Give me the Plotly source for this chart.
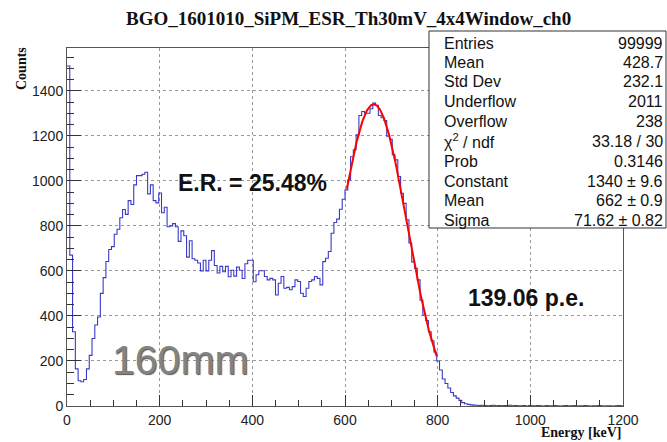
import numpy as np
import plotly.graph_objects as go

# ---- data ----
bin_width = 6.0
x_min, x_max = 0.0, 1200.0
hist_counts = [
    1510, 670, 330, 165, 112, 108, 118, 165, 225, 300,
    360, 395, 500, 570, 642, 695, 708, 763, 785, 836,
    873, 851, 912, 895, 982, 1023, 1023, 1029, 1038, 942,
    982, 912, 902, 946, 858, 883, 796, 800, 810, 796,
    731, 778, 756, 661, 734, 654, 647, 635, 600, 647,
    600, 647, 690, 624, 591, 620, 596, 620, 574, 603,
    577, 617, 603, 566, 632, 647, 647, 552, 583, 601,
    601, 575, 560, 567, 560, 493, 545, 575, 523, 527,
    516, 530, 560, 553, 501, 486, 523, 553, 560, 575,
    567, 538, 641, 656, 686, 767, 815, 830, 874, 918,
    960, 1004, 1107, 1138, 1204, 1290, 1308, 1300, 1300, 1320,
    1345, 1335, 1290, 1280, 1268, 1198, 1184, 1116, 1093, 1019,
    945, 900, 827, 724, 640, 612, 560, 470, 404, 380,
    330, 290, 240, 200, 160, 120, 100, 80, 60, 45,
    35, 25, 15, 10, 7, 5, 4, 3, 2, 3,
    2, 1, 2, 3, 1, 2, 1, 2, 1, 3,
    1, 2, 1, 1, 2, 0, 2, 1, 1, 2,
    1, 0, 2, 1, 1, 2, 1, 0, 1, 2,
    1, 1, 2, 0, 1, 1, 2, 1, 0, 1,
    1, 2, 1, 0, 1, 1, 0, 1, 2, 1,
]

fit_constant = 1340.0
fit_mean = 662.0
fit_sigma = 71.62
fit_lo, fit_hi = 604.0, 798.0

stat_labels = ["Entries", "Mean", "Std Dev", "Underflow", "Overflow",
               "χ<sup>2</sup> / ndf", "Prob", "Constant", "Mean", "Sigma"]
stat_values = ["99999", "428.7", "232.1", "2011", "238",
               "33.18 / 30", "0.3146", "1340 ± 9.6", "662 ± 0.9", "71.62 ± 0.82"]

title_text = "BGO_1601010_SiPM_ESR_Th30mV_4x4Window_ch0"

# ---- figure ----
W, H = 667, 442
L, R, T, B = 67, 44, 48, 36
pw, ph = W - L - R, H - T - B

def px(xp):
    return (xp - L) / pw

def py(yp):
    return (H - B - yp) / ph

n = len(hist_counts)
edges = [x_min + i * bin_width for i in range(n + 1)]
step_x = edges
step_y = list(hist_counts) + [hist_counts[-1]]

fx = np.linspace(fit_lo, fit_hi, 200)
fy = fit_constant * np.exp(-0.5 * ((fx - fit_mean) / fit_sigma) ** 2)

fig = go.Figure()
fig.add_trace(go.Scatter(x=step_x, y=step_y, mode="lines", line_shape="hv",
                         line=dict(color="#3a3ac8", width=1.1), hoverinfo="skip"))
fig.add_trace(go.Scatter(x=fx, y=fy, mode="lines",
                         line=dict(color="#ff0000", width=2), hoverinfo="skip"))

axis_font = dict(family="Liberation Sans, Arial", size=14, color="#222")
fig.update_xaxes(range=[x_min, x_max], tick0=0, dtick=200, ticks="inside", ticklen=11,
                 tickcolor="#333", showline=True, linecolor="#555", linewidth=1, mirror=True,
                 showgrid=True, gridcolor="#999", griddash="dot", gridwidth=1,
                 zeroline=False, tickfont=axis_font, ticklabelstandoff=1,
                 minor=dict(dtick=50, ticks="inside", ticklen=6, tickcolor="#333", showgrid=False))
fig.update_yaxes(range=[0, 1590], tick0=0, dtick=200, ticks="inside", ticklen=14,
                 tickcolor="#333", showline=True, linecolor="#555", linewidth=1, mirror=True,
                 showgrid=True, gridcolor="#999", griddash="dot", gridwidth=1,
                 zeroline=False, tickfont=axis_font,
                 minor=dict(dtick=50, ticks="inside", ticklen=7, tickcolor="#333", showgrid=False))

annotations = []
# stats box rows
row_y = [43, 62.5, 82, 101.5, 121, 141, 161, 181, 200.5, 220]
for lab, val, yy in zip(stat_labels, stat_values, row_y):
    annotations.append(dict(x=px(442), y=py(yy), xref="paper", yref="paper", text=lab,
                            showarrow=False, xanchor="left", yanchor="middle",
                            font=dict(family="Liberation Sans, Arial", size=16, color="#111")))
    annotations.append(dict(x=px(665), y=py(yy), xref="paper", yref="paper", text=val,
                            showarrow=False, xanchor="right", yanchor="middle",
                            font=dict(family="Liberation Sans, Arial", size=16, color="#111")))

annotations += [
    dict(x=px(348), y=py(19), xref="paper", yref="paper", text="<b>" + title_text + "</b>",
         showarrow=False, xanchor="center", yanchor="middle",
         font=dict(family="Liberation Serif, Times New Roman", size=19, color="#111")),
    dict(x=px(22), y=py(69), xref="paper", yref="paper", text="<b>Counts</b>", textangle=-90,
         showarrow=False, xanchor="center", yanchor="middle",
         font=dict(family="Liberation Serif, Times New Roman", size=14, color="#111")),
    dict(x=px(624), y=py(432), xref="paper", yref="paper", text="<b>Energy [keV]</b>",
         showarrow=False, xanchor="right", yanchor="middle",
         font=dict(family="Liberation Serif, Times New Roman", size=14, color="#111")),
    dict(x=px(253), y=py(183), xref="paper", yref="paper", text="<b>E.R. = 25.48%</b>",
         showarrow=False, xanchor="center", yanchor="middle",
         font=dict(family="Liberation Sans, Arial", size=23, color="#111")),
    dict(x=px(526), y=py(298), xref="paper", yref="paper", text="<b>139.06 p.e.</b>",
         showarrow=False, xanchor="center", yanchor="middle",
         font=dict(family="Liberation Sans, Arial", size=23, color="#111")),
    dict(x=px(180), y=py(360), xref="paper", yref="paper", text="160mm",
         showarrow=False, xanchor="center", yanchor="middle",
         font=dict(family="Liberation Sans, Arial", size=41, color="#838383",
                   shadow="1px 1px 1px #555")),
]

shapes = [
    dict(type="rect", xref="paper", yref="paper", x0=px(429), x1=px(666), y0=py(228), y1=py(31),
         fillcolor="white", line=dict(color="#333", width=1), layer="above"),
]

fig.update_layout(width=W, height=H, margin=dict(l=L, r=R, t=T, b=B),
                  paper_bgcolor="white", plot_bgcolor="white", showlegend=False,
                  annotations=annotations, shapes=shapes)

fig.write_html("out.html", config={"displayModeBar": False},
               post_script="document.body.style.margin='0px';document.body.style.overflow='hidden';")
